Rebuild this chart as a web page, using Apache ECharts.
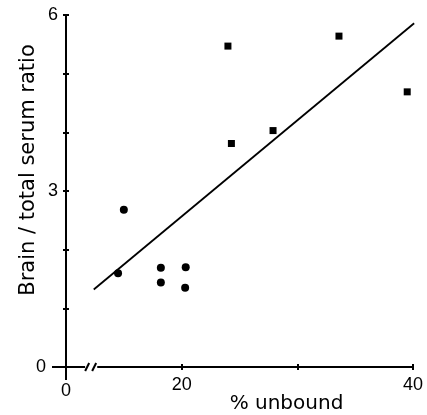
<!DOCTYPE html>
<html>
<head>
<meta charset="utf-8">
<script src="https://cdn.jsdelivr.net/npm/echarts@6/dist/echarts.min.js"></script>
<style>html,body{margin:0;padding:0;background:#fff;}#c{width:427px;height:415px;}</style>
</head>
<body>
<div id="c"></div>
<script>
// Data
const circleX = [15.0, 14.5, 18.2, 18.2, 20.35, 20.3];
const circleY = [2.68, 1.60, 1.69, 1.44, 1.70, 1.35];
const squareX = [24.0, 24.3, 27.9, 33.6, 39.5];
const squareY = [5.47, 3.81, 4.03, 5.64, 4.69];
const fitX = [12.4, 40.1];
const fitY = [1.32, 5.86];
const xTickLabels = {10: '0', 20: '20', 40: '40'};
const yTickLabels = {0: '0', 3: '3', 6: '6'};
const xAxisName = '% unbound';
const yAxisName = 'Brain / total serum ratio';
const axisOrigin = [10, 0];
const breakRange = [11.65, 12.7];

const FONT = 'DejaVu Sans';
const NUMFONT = 'Liberation Sans';
const zip = (a, b) => a.map((v, i) => [v, b[i]]);

const chart = echarts.init(document.getElementById('c'), null, {renderer: 'canvas'});

const axisCommonX = {
  type: 'value', min: 10, max: 40, interval: 10,
  splitLine: {show: false}
};
const axisCommonY = {
  type: 'value', min: 0, max: 6, interval: 1,
  splitLine: {show: false}
};

const option = {
  animation: false,
  backgroundColor: '#fff',
  grid: {left: 66, right: 14, top: 15, bottom: 48, containLabel: false, outerBoundsMode: 'none'},
  xAxis: [
    Object.assign({}, axisCommonX, {
      position: 'bottom',
      axisLine: {lineStyle: {color: '#000', width: 2}},
      axisTick: {show: true, inside: false, length: 3, lineStyle: {color: '#000', width: 2}},
      axisLabel: {
        margin: 9, color: '#000', fontFamily: NUMFONT, fontSize: 18,
        formatter: v => (xTickLabels[v] === undefined ? '' : (v === 10 ? '{z|0}' : xTickLabels[v])),
        rich: {z: {fontFamily: NUMFONT, fontSize: 18, color: '#000', padding: [6, 0, 0, 0]}}
      },
      name: xAxisName, nameLocation: 'middle', nameGap: 27, nameMoveOverlap: false,
      nameTextStyle: {color: '#000', fontFamily: FONT, fontSize: 20, padding: [0, 0, 0, 94], verticalAlign: 'top'}
    }),
    Object.assign({}, axisCommonX, {
      position: 'bottom',
      axisLine: {show: false},
      axisTick: {show: true, inside: true, length: 3, lineStyle: {color: '#000', width: 2}},
      axisLabel: {show: false}
    })
  ],
  yAxis: [
    Object.assign({}, axisCommonY, {
      position: 'left',
      axisLine: {lineStyle: {color: '#000', width: 2}},
      axisTick: {show: true, inside: false, length: 3, lineStyle: {color: '#000', width: 2}},
      axisLabel: {
        margin: 8, color: '#000', fontFamily: NUMFONT, fontSize: 18,
        formatter: v => (yTickLabels[v] === undefined ? '' : (v === 0 ? '{z|0}' : yTickLabels[v])),
        rich: {z: {fontFamily: NUMFONT, fontSize: 18, color: '#000', padding: [0, 12, 0, 0]}}
      },
      name: yAxisName, nameLocation: 'middle', nameGap: 27, nameRotate: 90, nameMoveOverlap: false,
      nameTextStyle: {color: '#000', fontFamily: FONT, fontSize: 21, padding: [0, 0, 0, 42], verticalAlign: 'bottom'}
    }),
    Object.assign({}, axisCommonY, {
      position: 'left',
      axisLine: {show: false},
      axisTick: {show: true, inside: true, length: 3, lineStyle: {color: '#000', width: 2}},
      axisLabel: {show: false}
    })
  ],
  series: [
    {
      type: 'line', data: zip(fitX, fitY), symbol: 'none',
      lineStyle: {color: '#000', width: 1.8}, z: 3
    },
    {
      type: 'scatter', data: zip(circleX, circleY), symbol: 'circle', symbolSize: 8,
      itemStyle: {color: '#000', opacity: 1}, z: 4
    },
    {
      type: 'scatter', data: zip(squareX, squareY), symbol: 'rect', symbolSize: 7,
      itemStyle: {color: '#000', opacity: 1}, z: 4
    },
    {
      // axis decorations: origin cross and axis break
      type: 'custom', z: 5, silent: true,
      data: [[axisOrigin[0], axisOrigin[1], breakRange[0], breakRange[1]]],
      renderItem: function (params, api) {
        const o = api.coord([api.value(0), api.value(1)]);
        const b0 = api.coord([api.value(2), api.value(1)]);
        const b1 = api.coord([api.value(3), api.value(1)]);
        const st = {stroke: '#000', lineWidth: 2};
        const mid = (b0[0] + b1[0]) / 2;
        return {
          type: 'group',
          children: [
            {type: 'line', shape: {x1: o[0] - 14, y1: o[1], x2: o[0], y2: o[1]}, style: st},
            {type: 'line', shape: {x1: o[0], y1: o[1], x2: o[0], y2: o[1] + 13}, style: st},
            {type: 'rect', shape: {x: b0[0], y: o[1] - 3, width: b1[0] - b0[0], height: 6}, style: {fill: '#fff'}},
            {type: 'line', shape: {x1: mid - 6, y1: o[1] + 4, x2: mid - 2, y2: o[1] - 4}, style: st},
            {type: 'line', shape: {x1: mid + 1, y1: o[1] + 4, x2: mid + 5, y2: o[1] - 4}, style: st}
          ]
        };
      }
    }
  ]
};
chart.setOption(option);
</script>
</body>
</html>
